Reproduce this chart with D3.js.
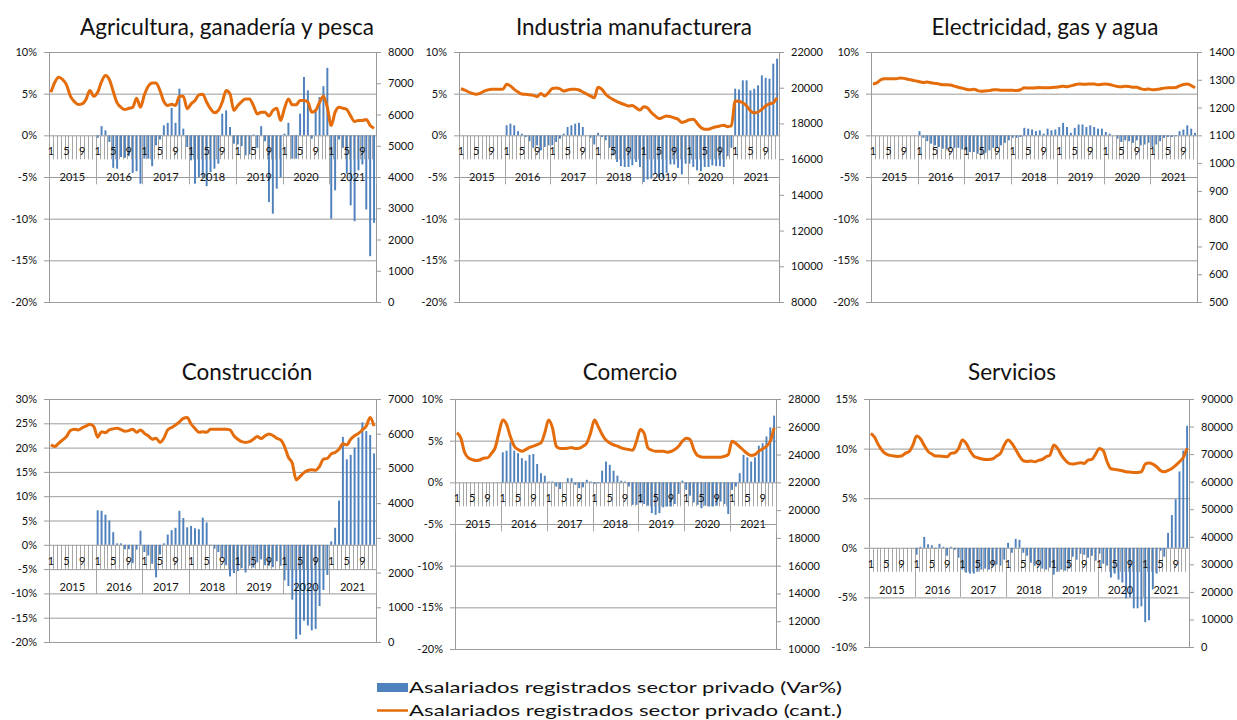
<!DOCTYPE html>
<html>
<head>
<meta charset="utf-8">
<script src="https://cdn.jsdelivr.net/npm/d3@7"></script>
<style>
  body { margin: 0; background: #fff; }
  svg text { font-family: Lato, "Open Sans", sans-serif; fill: #111; }
</style>
</head>
<body>
<div id="app"></div>
<script>
// categories
const years = [2015, 2016, 2017, 2018, 2019, 2020, 2021];
const monthLabels = [1, 2, 3, 4, 5, 6, 7, 8, 9, 10, 11, 12];
const shownMonths = [1, 5, 9];

// Agricultura, ganadería y pesca
const agroVar = [
  null, null, null, null, null, null, null, null, null, null, null, null,
  -0.3, 1.1, 0.6, -0.8, -3.9, -4.0, -2.6, -2.7, -2.5, -4.5, -4.3, -5.8,
  -2.8, -2.8, -3.7, -1.2, -0.5, 1.2, 1.5, 3.3, 1.5, 5.6, 0.8, -1.4,
  -3.0, -5.8, -5.0, -5.0, -6.1, -4.4, -4.0, -3.4, 2.6, 3.0, 1.0, -1.0,
  -1.1, -1.3, -2.4, -2.3, 0.1, -1.5, 1.1, -0.7, -8.0, -9.4, -6.4, -5.0,
  0.2, 1.5, -2.8, -2.8, 2.6, 7.0, 5.4, -0.4, 3.0, 4.6, 5.9, 8.1,
  -10.0, -6.6, -0.5, -1.5, -4.6, -8.4, -10.3, -4.2, -3.5, -8.9, -14.5, -10.5
];
const agroCant = [
  6710, 7030, 7190, 7120, 6950, 6585, 6415, 6320, 6340, 6480, 6770, 6585,
  6710, 7050, 7245, 7120, 6735, 6370, 6230, 6160, 6200, 6230, 6520, 6230,
  6630, 6905, 7010, 7010, 6770, 6415, 6290, 6330, 6290, 6585, 6585, 6180,
  6340, 6450, 6630, 6650, 6390, 6180, 6055, 6130, 6390, 6770, 6660, 6130,
  6290, 6415, 6500, 6500, 6290, 6020, 6070, 6070, 5950, 6130, 6200, 5810,
  6200, 6500, 6310, 6310, 6450, 6450, 6395, 6070, 6130, 6395, 6585, 6230,
  5650, 6075, 6235, 6200, 6160, 5950, 5775, 5810, 5810, 5840, 5650, 5560
];

// Industria manufacturera
const induVar = [
  null, null, null, null, null, null, null, null, null, null, null, null,
  1.2, 1.4, 1.2, 0.5, 0.2, -0.2, -0.7, -1.5, -1.2, -1.8, -1.4, -1.2,
  -1.2, -0.8, -0.4, 0.2, 1.0, 1.2, 1.4, 1.5, 1.0, 0.0, -0.3, -1.1,
  0.3, -0.2, -0.6, -1.5, -2.4, -3.2, -3.7, -3.8, -3.8, -3.6, -3.2, -3.8,
  -5.6, -5.3, -5.2, -4.6, -5.0, -5.1, -4.5, -3.5, -3.5, -3.9, -4.7, -3.4,
  -3.4, -3.8, -4.2, -4.3, -3.8, -3.8, -3.6, -3.7, -3.7, -3.8, -2.5, -1.5,
  5.6, 5.5, 6.6, 6.6, 5.4, 5.6, 6.0, 7.2, 6.9, 6.8, 8.6, 9.2
];
const induCant = [
  19940, 19870, 19760, 19680, 19630, 19680, 19800, 19870, 19910, 19910, 19910, 19910,
  20190, 20090, 19910, 19760, 19650, 19630, 19610, 19570, 19500, 19670, 19540, 19720,
  19960, 19980, 19940, 19810, 19870, 19910, 19910, 19870, 19760, 19650, 19540, 19440,
  20020, 19910, 19630, 19460, 19330, 19220, 19130, 19050, 18980, 19010, 18870, 18750,
  18940, 18870, 18610, 18420, 18270, 18340, 18420, 18380, 18310, 18230, 18050, 18120,
  18210, 18230, 18010, 17770, 17680, 17680, 17750, 17810, 17860, 17900, 17820, 17860,
  19260, 19240, 19160, 18980, 18700, 18590, 18640, 18790, 18980, 19090, 19160, 19440
];

// Electricidad, gas y agua
const elecVar = [
  null, null, null, null, null, null, null, null, null, null, null, null,
  0.5, -0.3, -0.7, -1.0, -1.2, -1.4, -1.6, -1.7, -1.6, -1.5, -1.5, -1.7,
  -1.8, -2.0, -2.0, -2.2, -2.3, -2.1, -1.8, -1.5, -1.5, -1.2, -0.9, -0.6,
  -0.3, -0.3, -0.2, 0.9, 0.8, 0.7, 0.5, 0.6, 0.2, 0.8, 0.6, 0.7,
  1.0, 1.5, 1.0, 0.3, 0.9, 1.3, 1.3, 1.0, 1.2, 1.0, 0.8, 0.8,
  0.4, 0.2, 0.0, -0.4, -0.8, -0.6, -0.7, -0.9, -0.6, -1.2, -1.1, -0.9,
  -1.4, -1.1, -0.7, -0.3, -0.2, -0.2, -0.1, 0.5, 0.7, 1.2, 0.8, 0.3
];
const elecCant = [
  1285, 1289, 1300, 1304, 1304, 1304, 1304, 1306, 1305, 1302, 1299, 1296,
  1293, 1290, 1292, 1289, 1287, 1285, 1282, 1282, 1281, 1277, 1273, 1270,
  1266, 1264, 1266, 1261, 1259, 1260, 1261, 1264, 1264, 1262, 1262, 1262,
  1262, 1261, 1264, 1271, 1270, 1270, 1271, 1272, 1271, 1271, 1272, 1273,
  1275, 1277, 1275, 1278, 1282, 1285, 1284, 1284, 1285, 1285, 1282, 1284,
  1285, 1283, 1279, 1276, 1275, 1277, 1276, 1273, 1273, 1268, 1265, 1267,
  1264, 1265, 1267, 1270, 1271, 1271, 1272, 1278, 1283, 1285, 1279, 1271
];

// Construcción
const consVar = [
  null, null, null, null, null, null, null, null, null, null, null, null,
  7.1, 7.0, 6.2, 5.0, 2.6, 0.3, 0.3, -0.9, -0.9, -3.8, -1.0, 2.9,
  -1.5, -2.2, -3.9, -6.7, -2.0, 0.3, 2.1, 3.0, 3.5, 7.0, 5.5, 3.6,
  3.9, 3.4, 3.2, 5.6, 4.6, -0.1, -0.8, -1.5, -2.5, -4.2, -6.5, -5.8,
  -5.4, -4.8, -5.7, -4.3, -4.7, -3.6, -3.0, -4.2, -4.3, -4.6, -3.4, -4.3,
  -7.3, -8.5, -11.3, -19.4, -18.5, -15.6, -16.6, -17.6, -17.3, -12.6, -9.3, -6.2,
  0.7, 3.5, 9.1, 22.2, 17.6, 18.5, 20.0, 22.1, 25.2, 23.4, 22.6, 18.8
];
const consCant = [
  5680, 5630, 5730, 5820, 5920, 6090, 6130, 6110, 6170, 6220, 6270, 6210,
  5900, 6060, 6030, 6110, 6140, 6160, 6120, 6070, 6090, 6130, 6040, 6110,
  6010, 5940, 5840, 5870, 5750, 5870, 6110, 6180, 6250, 6340, 6440, 6470,
  6280, 6150, 6040, 6060, 6040, 6130, 6130, 6130, 6130, 6130, 6110, 5940,
  5840, 5770, 5750, 5770, 5840, 5920, 5860, 5940, 5990, 5950, 5870, 5820,
  5630, 5320, 5150, 4670, 4770, 4880, 4940, 4960, 4950, 5060, 5270, 5290,
  5420, 5460, 5550, 5710, 5680, 5840, 5940, 6010, 6110, 6220, 6470, 6220
];

// Comercio
const comeVar = [
  null, null, null, null, null, null, null, null, null, null, null, null,
  3.6, 3.8, 4.8, 3.8, 3.5, 2.9, 2.6, 3.3, 3.4, 2.2, 1.1, 0.8,
  0.1, 0.1, -0.5, -0.8, 0.0, 0.5, 0.5, -0.3, -0.7, -0.6, 0.3, 0.1,
  -0.2, -0.1, 1.4, 2.5, 2.1, 1.4, 0.8, 0.2, 0.1, -0.5, -2.7, -2.7,
  -2.5, -2.6, -2.8, -3.7, -3.9, -3.7, -3.0, -2.9, -2.9, -2.6, -1.4, 0.2,
  -0.9, -1.6, -2.4, -2.7, -3.1, -2.8, -2.9, -2.9, -2.8, -2.3, -2.6, -3.8,
  -0.9, -0.5, 1.1, 3.3, 3.0, 2.5, 3.0, 4.4, 4.7, 5.5, 6.6, 8.0
];
const comeCant = [
  25570, 25200, 24170, 23760, 23640, 23570, 23610, 23740, 23760, 24070, 24480, 25570,
  26480, 26170, 25280, 24600, 24360, 24240, 24360, 24510, 24600, 24720, 24840, 25570,
  26480, 25930, 24600, 24430, 24430, 24460, 24510, 24430, 24460, 24600, 24840, 25570,
  26480, 26000, 25450, 25040, 24840, 24700, 24600, 24480, 24410, 24360, 24310, 24960,
  25810, 25520, 24480, 24310, 24240, 24240, 24240, 24170, 24220, 24360, 24600, 24960,
  25180, 25090, 24360, 23930, 23830, 23810, 23810, 23810, 23810, 23810, 23880, 24000,
  24960, 24800, 24560, 24310, 24070, 23930, 24000, 24240, 24410, 24600, 24960, 25930
];

// Servicios
const servVar = [
  null, null, null, null, null, null, null, null, null, null, null, null,
  -0.7, 0.1, 1.1, 0.35, 0.25, -0.1, 0.4, 0.1, -0.8, 0.1, -0.2, -1.0,
  -2.2, -2.5, -2.6, -2.6, -2.4, -2.2, -2.1, -2.2, -1.8, -1.7, -1.8, -1.2,
  0.5, -0.5, 0.9, 0.8, -0.5, -0.8, -1.5, -1.8, -1.7, -2.1, -2.2, -2.0,
  -2.7, -2.4, -2.2, -2.3, -2.1, -0.9, -1.2, -0.6, -0.7, -1.0, -0.8, -1.3,
  -0.6, -1.6, -1.8, -3.0, -2.6, -3.2, -3.5, -5.1, -5.0, -6.1, -6.1, -5.9,
  -7.5, -7.3, -4.2, -2.6, -0.3, -0.9, 1.5, 3.3, 4.9, 7.7, 9.8, 12.3
];
const servCant = [
  77530, 76070, 73290, 71230, 70020, 69530, 69290, 69170, 69290, 70260, 70870, 73170,
  76560, 75590, 73170, 70990, 70020, 69290, 69290, 69170, 69050, 70260, 70500, 71960,
  75100, 73890, 71230, 69290, 68690, 68320, 68080, 68080, 68320, 69290, 70260, 73290,
  75100, 73890, 71710, 69290, 67600, 67350, 67480, 67230, 67720, 68080, 69050, 69650,
  73290, 72080, 69650, 67840, 66630, 66390, 66630, 66870, 66630, 67840, 68080, 70020,
  72080, 71230, 67230, 64690, 64450, 64210, 63960, 63600, 63480, 63360, 63360, 63600,
  66390, 66750, 66390, 65420, 64090, 63600, 64090, 64810, 65900, 67230, 68810, 72080
];

// axis tick values
const pctTicksA = [-20, -15, -10, -5, 0, 5, 10];
const pctTicksCons = [-20, -15, -10, -5, 0, 5, 10, 15, 20, 25, 30];
const pctTicksServ = [-10, -5, 0, 5, 10, 15];
const agroTicks = [0, 1000, 2000, 3000, 4000, 5000, 6000, 7000, 8000];
const induTicks = [8000, 10000, 12000, 14000, 16000, 18000, 20000, 22000];
const elecTicks = [500, 600, 700, 800, 900, 1000, 1100, 1200, 1300, 1400];
const consTicks = [0, 1000, 2000, 3000, 4000, 5000, 6000, 7000];
const comeTicks = [10000, 12000, 14000, 16000, 18000, 20000, 22000, 24000, 26000, 28000];
const servTicks = [0, 10000, 20000, 30000, 40000, 50000, 60000, 70000, 80000, 90000];

const legendLabels = [
  'Asalariados registrados sector privado (Var%)',
  'Asalariados registrados sector privado (cant.)'
];

const barColor = '#4f81bd';
const lineColor = '#e46c0a';
const gridColor = '#9a9a9a';
const tickColor = '#a6a6a6';

const panels = [
  { title: 'Agricultura, ganadería y pesca', bars: agroVar, line: agroCant, left: pctTicksA, right: agroTicks,
    x0: 49, x1: 376, y0: 52, y1: 302, tx: 227, ty: 35 },
  { title: 'Industria manufacturera', bars: induVar, line: induCant, left: pctTicksA, right: induTicks,
    x0: 459, x1: 779, y0: 52, y1: 302, tx: 634, ty: 35 },
  { title: 'Electricidad, gas y agua', bars: elecVar, line: elecCant, left: pctTicksA, right: elecTicks,
    x0: 871, x1: 1197, y0: 52, y1: 302, tx: 1045, ty: 35 },
  { title: 'Construcción', bars: consVar, line: consCant, left: pctTicksCons, right: consTicks,
    x0: 49, x1: 376, y0: 399, y1: 642, tx: 247, ty: 380 },
  { title: 'Comercio', bars: comeVar, line: comeCant, left: pctTicksA, right: comeTicks,
    x0: 455, x1: 776, y0: 399, y1: 649, tx: 630, ty: 380 },
  { title: 'Servicios', bars: servVar, line: servCant, left: pctTicksServ, right: servTicks,
    x0: 869, x1: 1189, y0: 399, y1: 647, tx: 1012, ty: 380 }
];

const svg = d3.select('#app')
  .append('svg')
  .attr('width', 1237)
  .attr('height', 720);

// category keys: year x month
const cats = years.flatMap(y => monthLabels.map(m => ({ year: y, month: m })));

const drawPanel = (p) => {
  const g = svg.append('g');

  const x = d3.scaleBand()
    .domain(d3.range(cats.length))
    .range([p.x0, p.x1]);
  const bw = x.bandwidth();

  const yL = d3.scaleLinear().domain(d3.extent(p.left)).range([p.y1, p.y0]);
  const yR = d3.scaleLinear().domain(d3.extent(p.right)).range([p.y1, p.y0]);

  // title
  g.append('text')
    .attr('x', p.tx)
    .attr('y', p.ty)
    .attr('text-anchor', 'middle')
    .style('font-size', '22.5px')
    .text(p.title);

  // gridlines
  g.append('g')
    .attr('transform', `translate(${p.x0},0)`)
    .call(d3.axisLeft(yL).tickValues(p.left).tickSize(-(p.x1 - p.x0)).tickFormat(''))
    .call(a => a.select('.domain').remove())
    .call(a => a.selectAll('line').attr('stroke', gridColor));

  // left axis
  g.append('g')
    .attr('transform', `translate(${p.x0},0)`)
    .call(d3.axisLeft(yL).tickValues(p.left).tickSize(5).tickSizeOuter(0).tickPadding(7)
      .tickFormat(d => d + '%'))
    .call(a => a.select('.domain').attr('stroke', gridColor))
    .call(a => a.selectAll('line').attr('stroke', gridColor))
    .call(a => a.selectAll('text').style('font-size', '11px').attr('fill', '#111'));

  // right axis
  g.append('g')
    .attr('transform', `translate(${p.x1},0)`)
    .call(d3.axisRight(yR).tickValues(p.right).tickSize(5).tickSizeOuter(0).tickPadding(7)
      .tickFormat(d3.format('d')))
    .call(a => a.select('.domain').attr('stroke', gridColor))
    .call(a => a.selectAll('line').attr('stroke', gridColor))
    .call(a => a.selectAll('text').style('font-size', '11px').attr('fill', '#111'));

  // bars
  const y0 = yL(0);
  g.append('g')
    .selectAll('rect')
    .data(p.bars.map((v, i) => ({ v, i })).filter(d => d.v !== null))
    .join('rect')
    .attr('x', d => x(d.i) + bw * 0.25)
    .attr('width', bw * 0.5)
    .attr('y', d => Math.min(yL(d.v), y0))
    .attr('height', d => Math.abs(yL(d.v) - y0))
    .attr('fill', barColor);

  // category axis (multi-level)
  const ax = g.append('g');
  const bounds = d3.range(cats.length + 1);
  ax.selectAll('line.m')
    .data(bounds)
    .join('line')
    .attr('class', 'm')
    .attr('x1', i => Math.round(p.x0 + i * bw) + 0.5)
    .attr('x2', i => Math.round(p.x0 + i * bw) + 0.5)
    .attr('y1', y0)
    .attr('y2', i => y0 + (i % 12 === 0 ? 49 : 24))
    .attr('stroke', tickColor);

  ax.selectAll('text.m')
    .data(cats.map((c, i) => ({ ...c, i })).filter(c => shownMonths.includes(c.month)))
    .join('text')
    .attr('class', 'm')
    .attr('x', d => x(d.i) + bw / 2)
    .attr('y', y0 + 20)
    .attr('text-anchor', 'middle')
    .style('font-size', '11px')
    .text(d => d.month);

  ax.selectAll('text.y')
    .data(years)
    .join('text')
    .attr('class', 'y')
    .attr('x', (yr, k) => x(k * 12) + bw * 6)
    .attr('y', y0 + 46)
    .attr('text-anchor', 'middle')
    .style('font-size', '11px')
    .text(yr => yr);

  // line
  const line = d3.line()
    .x((v, i) => x(i) + bw / 2)
    .y(v => yR(v))
    .curve(d3.curveMonotoneX);

  g.append('path')
    .datum(p.line)
    .attr('d', line)
    .attr('fill', 'none')
    .attr('stroke', lineColor)
    .attr('stroke-width', 3)
    .attr('stroke-linejoin', 'round');
};

panels.forEach(drawPanel);

// legend
const legend = svg.append('g');
legend.append('rect')
  .attr('x', 377).attr('y', 683)
  .attr('width', 31).attr('height', 9)
  .attr('fill', barColor);
legend.append('line')
  .attr('x1', 377).attr('x2', 408)
  .attr('y1', 710.5).attr('y2', 710.5)
  .attr('stroke', lineColor).attr('stroke-width', 2.5);
legend.selectAll('text')
  .data(legendLabels)
  .join('text')
  .attr('x', 409)
  .attr('y', (d, i) => 693 + i * 23)
  .attr('textLength', 433)
  .attr('lengthAdjust', 'spacingAndGlyphs')
  .style('font-size', '15px')
  .text(d => d);
</script>
</body>
</html>
